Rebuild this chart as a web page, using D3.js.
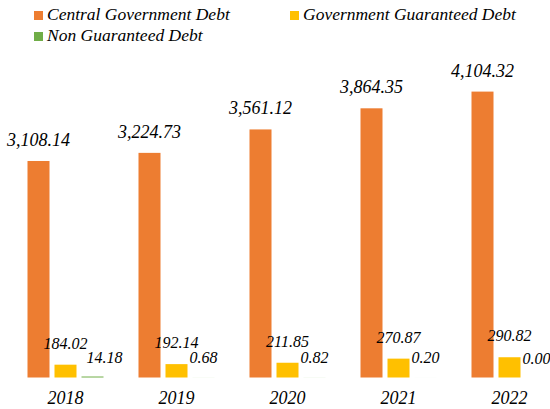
<!DOCTYPE html>
<html>
<head>
<meta charset="utf-8">
<script src="https://cdn.jsdelivr.net/npm/d3@7"></script>
<style>
  html, body { margin: 0; padding: 0; background: #fff; }
  svg { display: block; }
</style>
</head>
<body>
<svg id="chart" width="550" height="409"></svg>
<script>
// Public debt by year (in billions)
const years = ["2018", "2019", "2020", "2021", "2022"];
const seriesNames = ["Central Government Debt", "Government Guaranteed Debt", "Non Guaranteed Debt"];
const centralDebt = [3108.14, 3224.73, 3561.12, 3864.35, 4104.32];
const guaranteedDebt = [184.02, 192.14, 211.85, 270.87, 290.82];
const nonGuaranteedDebt = [14.18, 0.68, 0.82, 0.20, 0.00];
const colors = ["#ED7D31", "#FFC000", "#70AD47"];

const seriesValues = [centralDebt, guaranteedDebt, nonGuaranteedDebt];
const FONT = "Liberation Serif";
const svg = d3.select("#chart");

const baseY = 377.5;
const y = d3.scaleLinear().domain([0, 4800]).range([baseY, baseY - 4800 * 0.06966]);
const x0 = d3.scaleBand().domain(years).range([10, 565]);
const x1 = d3.scaleBand().domain(seriesNames).range([17.5, 93.5]).paddingInner(5 / 27).paddingOuter(0);

const fmt = d3.format(",.2f");
const labelSize = [18, 16, 16];
const labelGap = [15, 16, 14];

const italic = sel => sel
  .attr("font-family", FONT)
  .attr("font-style", "italic")
  .attr("fill", "#000");

const groups = svg.append("g").selectAll("g")
  .data(years)
  .join("g")
  .attr("transform", d => `translate(${x0(d)},0)`);

seriesNames.forEach((name, si) => {
  groups.append("rect")
    .attr("x", x1(name))
    .attr("width", x1.bandwidth())
    .attr("y", (d, i) => y(seriesValues[si][i]))
    .attr("height", (d, i) => baseY - y(seriesValues[si][i]))
    .attr("fill", colors[si]);

  groups.append("text")
    .call(italic)
    .attr("x", (d, i) => x1(name) + x1.bandwidth() / 2 + (si === 2 && i === 0 ? 12 : 0))
    .attr("y", (d, i) => y(seriesValues[si][i]) - labelGap[si])
    .attr("text-anchor", "middle")
    .attr("font-size", labelSize[si])
    .text((d, i) => fmt(seriesValues[si][i]));
});

// Category labels along the bottom
const xAxis = svg.append("g")
  .attr("transform", `translate(0,${baseY})`)
  .call(d3.axisBottom(x0).tickSize(0).tickPadding(0));
xAxis.select(".domain").remove();
xAxis.attr("font-family", FONT).attr("font-size", 18);
xAxis.selectAll("text")
  .call(italic)
  .attr("dy", null)
  .attr("y", 26);

// Legend
const legendPos = [[34, 11], [290, 11], [34, 32]];
const legend = svg.append("g").selectAll("g")
  .data(seriesNames)
  .join("g")
  .attr("transform", (d, i) => `translate(${legendPos[i][0]},${legendPos[i][1]})`);
legend.append("rect").attr("width", 9).attr("height", 9).attr("fill", (d, i) => colors[i]);
legend.append("text").call(italic).attr("x", 13).attr("y", 9).attr("font-size", 17.5).text(d => d);
</script>
</body>
</html>
